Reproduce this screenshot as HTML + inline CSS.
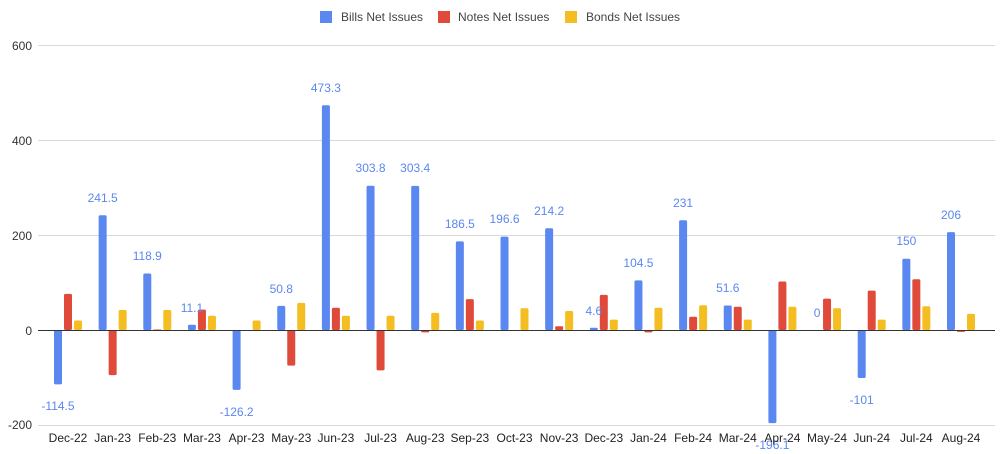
<!DOCTYPE html>
<html><head><meta charset="utf-8"><style>
html,body{margin:0;padding:0;background:#fff;}
svg{display:block;font-family:"Liberation Sans",Arial,sans-serif;}
</style></head><body>
<svg width="1002" height="454" viewBox="0 0 1002 454" xmlns="http://www.w3.org/2000/svg">
<!-- legend -->
<rect x="320" y="11" width="12" height="12" fill="#5b87f0"/>
<text x="341" y="21" font-size="12" fill="#444">Bills Net Issues</text>
<rect x="438" y="11" width="12" height="12" fill="#e04a3a"/>
<text x="458" y="21" font-size="12" fill="#444">Notes Net Issues</text>
<rect x="565" y="11" width="12" height="12" fill="#f4bd22"/>
<text x="586" y="21" font-size="12" fill="#444">Bonds Net Issues</text>
<!-- grid -->
<g stroke="#d9d9d9" stroke-width="1">
<line x1="38" y1="45.5" x2="995" y2="45.5"/>
<line x1="38" y1="140.5" x2="995" y2="140.5"/>
<line x1="38" y1="235.5" x2="995" y2="235.5"/>
<line x1="38" y1="425.5" x2="995" y2="425.5"/>
</g>
<g font-size="12" fill="#333" text-anchor="end">
<text x="32" y="50">600</text>
<text x="32" y="145">400</text>
<text x="32" y="240">200</text>
<text x="32" y="335">0</text>
<text x="32" y="429">-200</text>
</g>
<!-- bills -->
<g fill="#5b87f0">
<rect x="54" y="330" width="8" height="54.4" rx="1.5"/>
<rect x="98.65" y="215.3" width="8" height="114.7" rx="1.5"/>
<rect x="143.3" y="273.5" width="8" height="56.5" rx="1.5"/>
<rect x="187.95" y="324.7" width="8" height="5.3" rx="1.5"/>
<rect x="232.6" y="330" width="8" height="59.9" rx="1.5"/>
<rect x="277.25" y="305.9" width="8" height="24.1" rx="1.5"/>
<rect x="321.9" y="105.2" width="8" height="224.8" rx="1.5"/>
<rect x="366.55" y="185.7" width="8" height="144.3" rx="1.5"/>
<rect x="411.2" y="185.9" width="8" height="144.1" rx="1.5"/>
<rect x="455.85" y="241.4" width="8" height="88.6" rx="1.5"/>
<rect x="500.5" y="236.6" width="8" height="93.4" rx="1.5"/>
<rect x="545.15" y="228.3" width="8" height="101.7" rx="1.5"/>
<rect x="589.8" y="327.8" width="8" height="2.2" rx="1"/>
<rect x="634.45" y="280.4" width="8" height="49.6" rx="1.5"/>
<rect x="679.1" y="220.3" width="8" height="109.7" rx="1.5"/>
<rect x="723.75" y="305.5" width="8" height="24.5" rx="1.5"/>
<rect x="768.4" y="330" width="8" height="93.1" rx="1.5"/>
<rect x="857.7" y="330" width="8" height="48" rx="1.5"/>
<rect x="902.35" y="258.7" width="8" height="71.3" rx="1.5"/>
<rect x="947" y="232.1" width="8" height="97.9" rx="1.5"/>
</g>
<!-- notes -->
<g fill="#e04a3a">
<rect x="64" y="293.9" width="8" height="36.1" rx="1.5"/>
<rect x="108.65" y="330" width="8" height="45.1" rx="1.5"/>
<rect x="153.3" y="329.5" width="8" height="0.5"/>
<rect x="197.95" y="309.6" width="8" height="20.4" rx="1.5"/>
<rect x="287.25" y="330" width="8" height="35.6" rx="1.5"/>
<rect x="331.9" y="307.7" width="8" height="22.3" rx="1.5"/>
<rect x="376.55" y="330" width="8" height="40.4" rx="1.5"/>
<rect x="421.2" y="330" width="8" height="2.4" rx="1"/>
<rect x="465.85" y="299.1" width="8" height="30.9" rx="1.5"/>
<rect x="555.15" y="326.2" width="8" height="3.8" rx="1"/>
<rect x="599.8" y="294.9" width="8" height="35.1" rx="1.5"/>
<rect x="644.45" y="330" width="8" height="2.4" rx="1"/>
<rect x="689.1" y="316.7" width="8" height="13.3" rx="1.5"/>
<rect x="733.75" y="306.7" width="8" height="23.3" rx="1.5"/>
<rect x="778.4" y="281.5" width="8" height="48.5" rx="1.5"/>
<rect x="823.05" y="298.6" width="8" height="31.4" rx="1.5"/>
<rect x="867.7" y="290.6" width="8" height="39.4" rx="1.5"/>
<rect x="912.35" y="279.2" width="8" height="50.8" rx="1.5"/>
<rect x="957" y="330" width="8" height="1.9" rx="1"/>
</g>
<!-- bonds -->
<g fill="#f4bd22">
<rect x="74" y="320.5" width="8" height="9.5" rx="1.5"/>
<rect x="118.65" y="310" width="8" height="20" rx="1.5"/>
<rect x="163.3" y="310" width="8" height="20" rx="1.5"/>
<rect x="207.95" y="315.7" width="8" height="14.3" rx="1.5"/>
<rect x="252.6" y="320.5" width="8" height="9.5" rx="1.5"/>
<rect x="297.25" y="302.9" width="8" height="27.1" rx="1.5"/>
<rect x="341.9" y="315.7" width="8" height="14.3" rx="1.5"/>
<rect x="386.55" y="315.7" width="8" height="14.3" rx="1.5"/>
<rect x="431.2" y="312.9" width="8" height="17.1" rx="1.5"/>
<rect x="475.85" y="320.5" width="8" height="9.5" rx="1.5"/>
<rect x="520.5" y="308.2" width="8" height="21.8" rx="1.5"/>
<rect x="565.15" y="311" width="8" height="19" rx="1.5"/>
<rect x="609.8" y="319.6" width="8" height="10.4" rx="1.5"/>
<rect x="654.45" y="307.7" width="8" height="22.3" rx="1.5"/>
<rect x="699.1" y="305.3" width="8" height="24.7" rx="1.5"/>
<rect x="743.75" y="319.6" width="8" height="10.4" rx="1.5"/>
<rect x="788.4" y="306.7" width="8" height="23.3" rx="1.5"/>
<rect x="833.05" y="308.2" width="8" height="21.8" rx="1.5"/>
<rect x="877.7" y="319.6" width="8" height="10.4" rx="1.5"/>
<rect x="922.35" y="306.3" width="8" height="23.7" rx="1.5"/>
<rect x="967" y="313.9" width="8" height="16.1" rx="1.5"/>
</g>
<line x1="38" y1="330.5" x2="995" y2="330.5" stroke="#333" stroke-width="1"/>
<!-- labels -->
<g font-size="12" fill="#5b87f0" text-anchor="middle">
<text x="58" y="410">-114.5</text>
<text x="102.65" y="202">241.5</text>
<text x="147.3" y="260">118.9</text>
<text x="191.95" y="312">11.1</text>
<text x="236.6" y="416">-126.2</text>
<text x="281.25" y="293">50.8</text>
<text x="325.9" y="92">473.3</text>
<text x="370.55" y="172">303.8</text>
<text x="415.2" y="172">303.4</text>
<text x="459.85" y="228">186.5</text>
<text x="504.5" y="223">196.6</text>
<text x="549.15" y="215">214.2</text>
<text x="593.8" y="315">4.6</text>
<text x="638.45" y="267">104.5</text>
<text x="683.1" y="207">231</text>
<text x="727.75" y="292">51.6</text>
<text x="772.4" y="449">-196.1</text>
<text x="817.05" y="317">0</text>
<text x="861.7" y="404">-101</text>
<text x="906.35" y="245">150</text>
<text x="951" y="219">206</text>
</g>
<g font-size="12" fill="#222" text-anchor="middle">
<text x="68" y="442">Dec-22</text>
<text x="112.65" y="442">Jan-23</text>
<text x="157.3" y="442">Feb-23</text>
<text x="201.95" y="442">Mar-23</text>
<text x="246.6" y="442">Apr-23</text>
<text x="291.25" y="442">May-23</text>
<text x="335.9" y="442">Jun-23</text>
<text x="380.55" y="442">Jul-23</text>
<text x="425.2" y="442">Aug-23</text>
<text x="469.85" y="442">Sep-23</text>
<text x="514.5" y="442">Oct-23</text>
<text x="559.15" y="442">Nov-23</text>
<text x="603.8" y="442">Dec-23</text>
<text x="648.45" y="442">Jan-24</text>
<text x="693.1" y="442">Feb-24</text>
<text x="737.75" y="442">Mar-24</text>
<text x="782.4" y="442">Apr-24</text>
<text x="827.05" y="442">May-24</text>
<text x="871.7" y="442">Jun-24</text>
<text x="916.35" y="442">Jul-24</text>
<text x="961" y="442">Aug-24</text>
</g>
</svg>
</body></html>
